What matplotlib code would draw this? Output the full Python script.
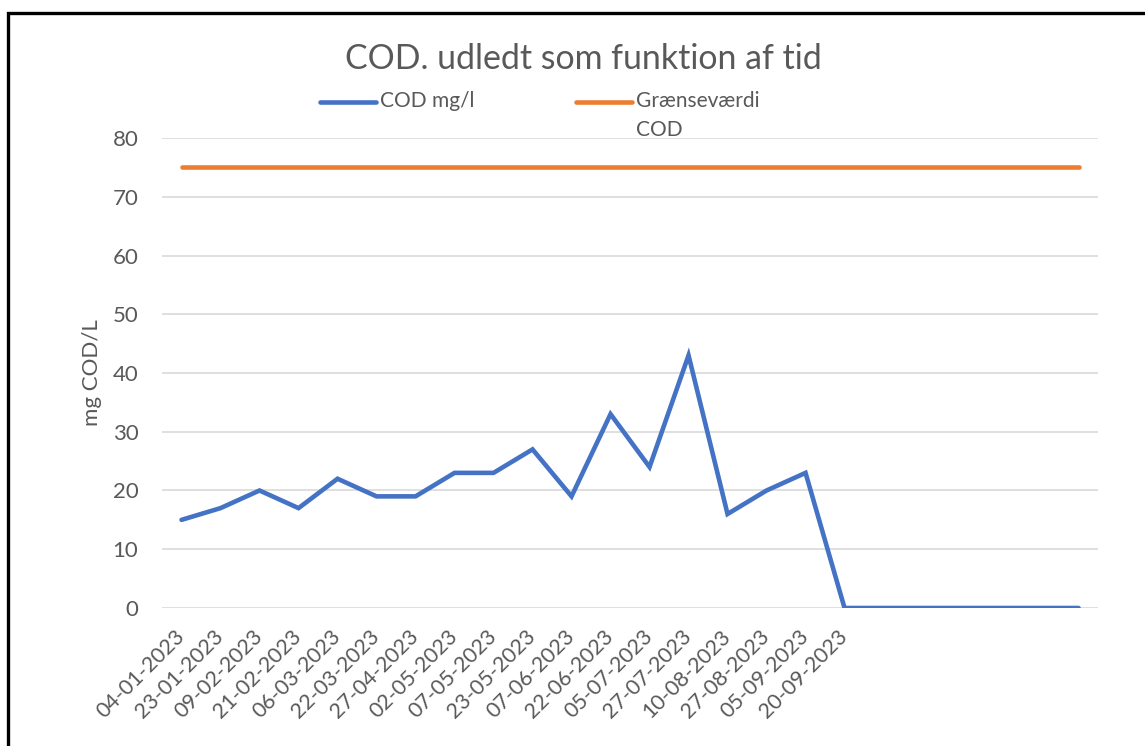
import matplotlib.pyplot as plt
from matplotlib.patches import Rectangle

plt.rcParams['font.family'] = ['Lato', 'DejaVu Sans']

# data
dates = ['04-01-2023', '23-01-2023', '09-02-2023', '21-02-2023', '06-03-2023',
         '22-03-2023', '27-04-2023', '02-05-2023', '07-05-2023', '23-05-2023',
         '07-06-2023', '22-06-2023', '05-07-2023', '27-07-2023', '10-08-2023',
         '27-08-2023', '05-09-2023', '20-09-2023', '', '', '', '', '', '']
cod = [15, 17, 20, 17, 22, 19, 19, 23, 23, 27, 19, 33, 24, 43, 16, 20, 23, 0,
       0, 0, 0, 0, 0, 0]
limit = [75] * len(dates)

grey = '#595959'

fig = plt.figure(figsize=(11.45, 7.46), dpi=100)
ax = fig.add_axes([0.1415, 0.185, 0.8175, 0.63])

x = list(range(len(dates)))
# trailing newline keeps the two legend entries top-aligned like Excel does
ax.plot(x, cod, color='#4472C4', lw=3.3, solid_capstyle='round',
        solid_joinstyle='miter', label='COD mg/l\n')
ax.plot(x, limit, color='#ED7D31', lw=3.3, solid_capstyle='round',
        label='Grænseværdi\nCOD')

ax.set_xlim(-0.5, len(dates) - 0.5)
ax.set_ylim(0, 80)
ax.set_yticks(range(0, 81, 10))
ax.set_xticks(x)
ax.set_xticklabels(dates, rotation=45, ha='right', va='center',
                   rotation_mode='anchor', fontsize=15.5, color=grey)
ax.tick_params(axis='y', labelsize=16, colors=grey, length=0, pad=17)
ax.tick_params(axis='x', length=0, pad=18)
ax.grid(axis='y', color='#D9D9D9', lw=1.2)
ax.set_axisbelow(True)
for s in ax.spines.values():
    s.set_visible(False)

ax.set_ylabel('mg COD/L', fontsize=16, color=grey)
ax.yaxis.set_label_coords(-0.064, 0.5)

fig.text(0.5096, 0.921, 'COD. udledt som funktion af tid', fontsize=24.4,
         color=grey, ha='center', va='center')

leg = fig.legend(loc='upper left', bbox_to_anchor=(0.2795, 0.878), ncol=2,
                 frameon=False, fontsize=15, handlelength=2.67,
                 handletextpad=0.2, columnspacing=4.9, labelcolor=grey,
                 borderpad=0, borderaxespad=0)
for t in leg.get_texts():
    t.set_linespacing(1.57)
# move the legend lines up to the first text row
for h in leg.legend_handles:
    h.set_ydata([y + 10.4 for y in h.get_ydata()])

# black frame around the chart
fig.patches.append(Rectangle((8 / 1145, -0.1), 1.2, 1.1 - 13 / 746,
                             transform=fig.transFigure, fill=False,
                             ec='black', lw=2.4))

fig.savefig('out.png', dpi=100)
